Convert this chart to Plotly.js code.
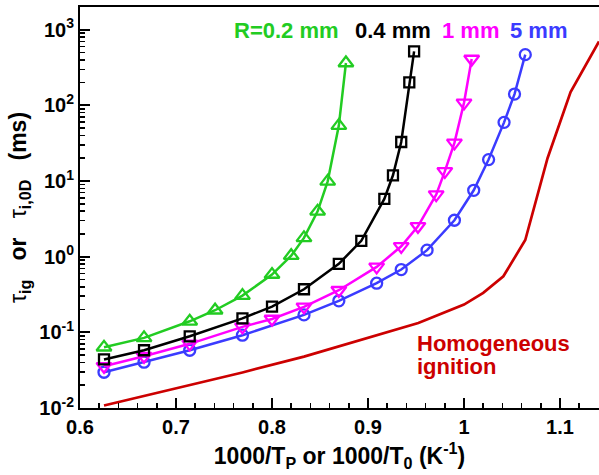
<!DOCTYPE html>
<html>
<head>
<meta charset="utf-8">
<script src="https://cdn.plot.ly/plotly-3.0.1.min.js"></script>
<style>
  html, body { margin: 0; padding: 0; background: #fff; overflow: hidden; }
  #chart { width: 599px; height: 475px; }
</style>
</head>
<body>
<div id="chart"></div>
<script>
// Ignition delay vs inverse temperature, for several particle radii,
// plus the homogeneous (0D) ignition delay.

// R = 0.2 mm
const xR02 = [0.625, 0.6667, 0.7143, 0.7407, 0.7692, 0.8, 0.82, 0.8333, 0.8475, 0.858, 0.8696, 0.877];
const yR02 = [0.0635, 0.0845, 0.140, 0.196, 0.306, 0.581, 1.03, 1.77, 3.98, 9.9, 54, 363];

// R = 0.4 mm
const xR04 = [0.625, 0.6667, 0.7143, 0.7692, 0.8, 0.8333, 0.8696, 0.893, 0.917, 0.926, 0.9346, 0.943, 0.948];
const yR04 = [0.0438, 0.058, 0.0887, 0.153, 0.219, 0.371, 0.805, 1.62, 5.8, 11.9, 32.8, 201, 517];

// R = 1 mm
const xR1 = [0.625, 0.6667, 0.7143, 0.7692, 0.8, 0.8333, 0.8696, 0.909, 0.9346, 0.952, 0.971, 0.980, 0.990, 1.0, 1.008];
const yR1 = [0.0356, 0.0483, 0.0705, 0.118, 0.150, 0.217, 0.360, 0.733, 1.37, 2.52, 6.61, 13.4, 31.9, 108, 410];

// R = 5 mm
const xR5 = [0.625, 0.6667, 0.7143, 0.7692, 0.8333, 0.8696, 0.909, 0.9346, 0.9615, 0.990, 1.0101, 1.0256, 1.0417, 1.0526, 1.0638];
const yR5 = [0.0297, 0.0403, 0.058, 0.0917, 0.170, 0.261, 0.446, 0.676, 1.22, 3.03, 7.54, 19.2, 59.6, 141, 468];

// Homogeneous ignition
const xHom = [0.625, 0.6667, 0.7143, 0.7692, 0.8333, 0.8696, 0.909, 0.9524, 1.0, 1.02, 1.041, 1.0638, 1.087, 1.111, 1.1406];
const yHom = [0.0108, 0.0145, 0.0204, 0.0295, 0.0478, 0.0649, 0.0908, 0.133, 0.233, 0.333, 0.551, 1.66, 20, 150, 700];

// Axis ticks
const xTickVals = [0.6, 0.7, 0.8, 0.9, 1.0, 1.1];
const xTickText = ['0.6', '0.7', '0.8', '0.9', '1', '1.1'];
const yTickVals = [0.01, 0.1, 1, 10, 100, 1000];
const yTickText = ['10<sup>-2</sup>', '10<sup>-1</sup>', '10<sup>0</sup>', '10<sup>1</sup>', '10<sup>2</sup>', '10<sup>3</sup>'];

const GREEN = '#22cc22', BLACK = '#000000', MAGENTA = '#ff00ff', BLUE = '#3b3bff', RED = '#cc0000';
const FONT = 'Liberation Sans, Arial, Helvetica, sans-serif';

// minor ticks at 2..9 of every decade
const yMinor = [];
for (let e = -2; e <= 3; e++) {
  for (let m = 2; m <= 9; m++) yMinor.push(m * Math.pow(10, e));
}

function series(x, y, color, symbol, size) {
  return {
    x: x, y: y, type: 'scatter', mode: 'lines+markers',
    line: { color: color, width: 2.5 },
    marker: { symbol: symbol, size: size, color: color, line: { color: color, width: 2.3 } },
    cliponaxis: true, hoverinfo: 'skip'
  };
}

const traces = [
  { x: xHom, y: yHom, type: 'scatter', mode: 'lines', line: { color: RED, width: 2.7 }, hoverinfo: 'skip' },
  series(xR5, yR5, BLUE, 'circle-open', 11),
  series(xR1, yR1, MAGENTA, 'triangle-down-open', 13),
  series(xR04, yR04, BLACK, 'square-open', 10),
  series(xR02, yR02, GREEN, 'triangle-up-open', 13)
];

const labelFont = (c) => ({ family: FONT, size: 22, color: c, weight: 700 });
const tau = '<span style="font-weight:normal">τ</span>';
const gap = '\u00a0\u00a0\u00a0';

const layout = {
  width: 599, height: 475,
  margin: { l: 80, r: 0, t: 7, b: 67 },
  paper_bgcolor: '#fff', plot_bgcolor: '#fff',
  showlegend: false,
  font: { family: FONT, size: 20, color: '#000', weight: 700 },
  xaxis: {
    range: [0.6, 1.1406],
    tickmode: 'array', tickvals: xTickVals, ticktext: xTickText,
    ticks: 'inside', ticklen: 10, tickwidth: 2, tickcolor: '#000',
    minor: { tickmode: 'linear', tick0: 0.6, dtick: 0.02, ticks: 'inside', ticklen: 5, tickwidth: 1.5, tickcolor: '#000' },
    showline: true, linewidth: 2, linecolor: '#000', mirror: true,
    showgrid: false, zeroline: false,
    tickfont: { family: FONT, size: 20, color: '#000', weight: 700 },
    title: {
      text: '1000/T<sub>P</sub> or 1000/T<sub>0</sub> (K<sup>-1</sup>)',
      font: { family: FONT, size: 23, color: '#000', weight: 700 },
      standoff: 11
    }
  },
  yaxis: {
    type: 'log', range: [-2, 3.3],
    tickmode: 'array', tickvals: yTickVals, ticktext: yTickText,
    ticks: 'inside', ticklen: 10, tickwidth: 2, tickcolor: '#000',
    minor: { tickmode: 'array', tickvals: yMinor, ticks: 'inside', ticklen: 5, tickwidth: 1.5, tickcolor: '#000' },
    showline: true, linewidth: 2, linecolor: '#000', mirror: false,
    showgrid: false, zeroline: false,
    tickfont: { family: FONT, size: 20, color: '#000', weight: 700 },
    title: {
      text: tau + '<sub>ig</sub>' + gap + 'or' + gap + tau + '<sub>i,0D</sub>' + gap + '(ms)\u00a0\u00a0',
      font: { family: FONT, size: 23, color: '#000', weight: 700 },
      standoff: 6
    }
  },
  annotations: [
    { xref: 'paper', yref: 'paper', x: (232 - 80) / 519, y: (408.5 - 31) / 401.5, xanchor: 'left', yanchor: 'middle',
      text: 'R=0.2 mm', showarrow: false, font: labelFont(GREEN) },
    { xref: 'paper', yref: 'paper', x: (353 - 80) / 519, y: (408.5 - 31) / 401.5, xanchor: 'left', yanchor: 'middle',
      text: '0.4 mm', showarrow: false, font: labelFont(BLACK) },
    { xref: 'paper', yref: 'paper', x: (440 - 80) / 519, y: (408.5 - 31) / 401.5, xanchor: 'left', yanchor: 'middle',
      text: '1 mm', showarrow: false, font: labelFont(MAGENTA) },
    { xref: 'paper', yref: 'paper', x: (508 - 80) / 519, y: (408.5 - 31) / 401.5, xanchor: 'left', yanchor: 'middle',
      text: '5 mm', showarrow: false, font: labelFont(BLUE) },
    { xref: 'paper', yref: 'paper', x: (415 - 80) / 519, y: (408.5 - 344) / 401.5, xanchor: 'left', yanchor: 'middle',
      text: 'Homogeneous', showarrow: false, font: labelFont(RED) },
    { xref: 'paper', yref: 'paper', x: (415 - 80) / 519, y: (408.5 - 367) / 401.5, xanchor: 'left', yanchor: 'middle',
      text: 'ignition', showarrow: false, font: labelFont(RED) }
  ]
};

Plotly.newPlot('chart', traces, layout, { staticPlot: true, displayModeBar: false });
</script>
</body>
</html>
